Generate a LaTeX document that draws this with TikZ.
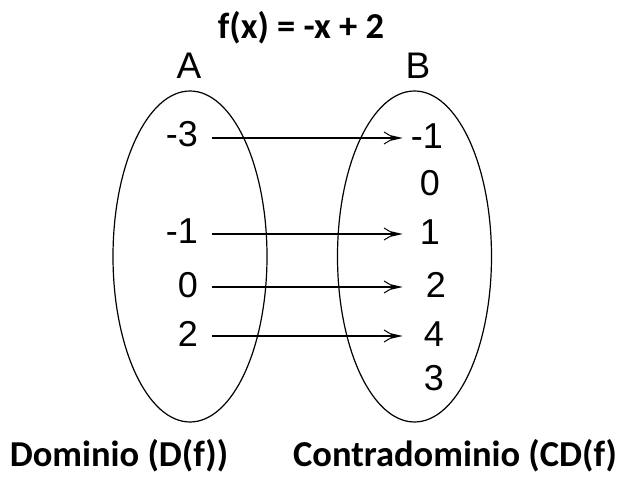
\documentclass[tikz,border=0pt]{standalone}
\usepackage{fontspec}
\setmainfont{Liberation Sans}
\newfontfamily\capfont{Carlito}
\usetikzlibrary{shapes.geometric,arrows.meta}
\begin{document}
\begin{tikzpicture}[x=1pt,y=-1pt,
 set/.style={draw, ellipse, line width=1.2pt, minimum width=154pt, minimum height=331pt, inner sep=0pt},
 num/.style={font=\fontsize{36}{36}\selectfont, inner sep=0pt},
 setname/.style={font=\fontsize{37}{37}\selectfont, inner sep=0pt},
 caplbl/.style={font=\capfont\bfseries\fontsize{36.5}{36.5}\selectfont, inner sep=0pt},
 arr/.style={line width=1.4pt, shorten <=14pt, -{Straight Barb[length=10pt,width=12pt,line width=1pt,sep=-4pt] Triangle[length=12pt,width=5pt]}}
]
\useasboundingbox (0,0) rectangle (622,481);
\node[caplbl] (title) at (301,28) {f(x) = -x + 2};
\node[setname] (A) at (189,66) {A};
\node[setname] (B) at (418,66) {B};
\node[set] (SA) at (190,256.5) {};
\node[set] (SB) at (414.5,256.5) {};
% left values
\node[num, anchor=east] (lm3) at (198,134.5) {-3};
\node[num, anchor=east] (lm1) at (198,231.5) {-1};
\node[num, anchor=east] (l0) at (198,285) {0};
\node[num, anchor=east] (l2) at (198,333.5) {2};
% right values
\node[num] (rm1) at (427,136.5) {-1};
\node[num] (r0) at (430,183) {0};
\node[num] (r1) at (430,232) {1};
\node[num] (r2) at (436,285) {2};
\node[num] (r4) at (434,334) {4};
\node[num] (r3) at (434,378) {3};
\coordinate (tipx) at (403,0);
\draw[arr] ([yshift=-3.5pt]lm3.east) -- ([yshift=-3.5pt]lm3.east -| tipx);
\draw[arr] ([yshift=-2.5pt]lm1.east) -- ([yshift=-2.5pt]lm1.east -| tipx);
\draw[arr] ([yshift=-2pt]l0.east) -- ([yshift=-2pt]l0.east -| tipx);
\draw[arr] ([yshift=-2.5pt]l2.east) -- ([yshift=-2.5pt]l2.east -| tipx);
\node[caplbl] (dom) at (119,456) {Dominio (D(f))};
\node[caplbl] (cod) at (455,456) {Contradominio (CD(f)};
\end{tikzpicture}
\end{document}
